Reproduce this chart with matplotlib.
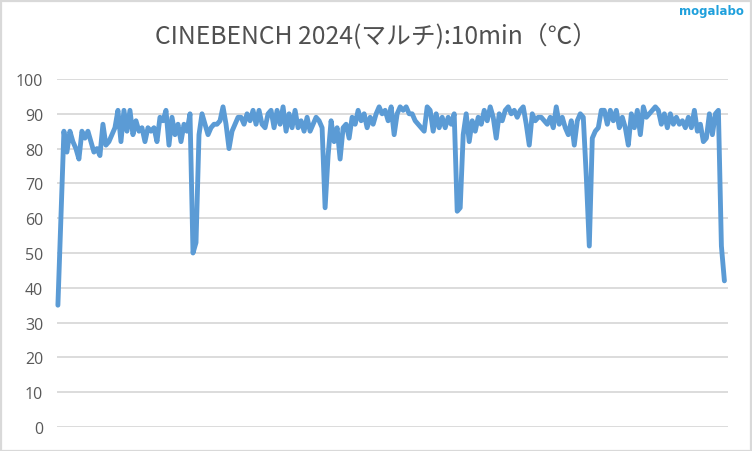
import matplotlib
matplotlib.use("Agg")
import matplotlib.pyplot as plt
from matplotlib.patches import Rectangle
import numpy as np

title = "CINEBENCH 2024(マルチ):10min（℃）"
watermark = "mogalabo"
y_ticks = [0, 10, 20, 30, 40, 50, 60, 70, 80, 90, 100]

temperature = [
    35, 60, 85, 79, 85, 82, 80, 77, 85, 83,
    85, 82, 79, 80, 78, 87, 81, 82, 84, 86,
    91, 82, 91, 85, 91, 84, 88, 85, 86, 82,
    86, 85, 86, 82, 89, 88, 91, 81, 89, 84,
    87, 82, 87, 85, 90, 50, 53, 84, 90, 87,
    84, 86, 87, 87, 88, 92, 87, 80, 85, 87,
    89, 89, 87, 90, 88, 91, 87, 91, 87, 86,
    90, 91, 86, 91, 87, 92, 85, 90, 86, 91,
    86, 88, 85, 89, 85, 87, 89, 88, 86, 63,
    78, 88, 82, 86, 77, 86, 87, 83, 89, 87,
    91, 88, 90, 86, 89, 87, 90, 92, 90, 91,
    88, 92, 84, 90, 92, 91, 92, 90, 90, 88,
    87, 86, 85, 92, 91, 85, 90, 86, 89, 86,
    89, 87, 90, 62, 63, 84, 90, 82, 88, 85,
    89, 87, 91, 88, 92, 89, 83, 90, 88, 91,
    92, 90, 91, 89, 91, 92, 87, 81, 90, 88,
    89, 89, 88, 87, 89, 86, 92, 87, 89, 86,
    84, 88, 81, 88, 90, 89, 72, 52, 83, 85,
    86, 91, 91, 87, 91, 88, 91, 86, 89, 86,
    81, 90, 86, 91, 84, 92, 89, 90, 91, 92,
    91, 87, 90, 86, 90, 87, 89, 87, 88, 86,
    89, 86, 91, 85, 87, 82, 83, 90, 84, 90,
    91, 52, 42,
]

W, H = 752, 452
fig = plt.figure(figsize=(W / 100, H / 100), dpi=100)
fig.patch.set_facecolor("white")

ax = fig.add_axes([57 / W, (H - 428) / H, (728 - 57) / W, (428 - 80) / H])
x = np.arange(len(temperature))
ax.plot(x, temperature, color="#5B9BD5", linewidth=3.5,
        solid_joinstyle="round", solid_capstyle="round", zorder=3, clip_on=False)
ax.set_xlim(-0.3, len(temperature) - 1 + 1.2)
ax.set_ylim(0, 100)
ax.set_yticks(y_ticks)
ax.set_xticks([])
ax.grid(axis="y", color="#D9D9D9", linewidth=1.3, zorder=0)
for s in ax.spines.values():
    s.set_visible(False)
ax.tick_params(axis="y", length=0, pad=10, labelsize=11.5, labelcolor="#595959")
for lab in ax.get_yticklabels():
    lab.set_family(["Open Sans", "DejaVu Sans"])

fig.text(376 / W, 1 - 37 / H, title, ha="center", va="center",
         fontsize=17.8, color="#505050",
         family=["Noto Sans CJK JP", "DejaVu Sans"])
fig.text(744 / W, 1 - 12 / H, watermark, ha="right", va="center",
         fontsize=8.5, fontweight="bold", color="#1FA0DC",
         family=["DejaVu Sans"])

fig.patches.append(Rectangle((0.5 / W, 0.5 / H), (W - 2) / W, (H - 2) / H,
                             transform=fig.transFigure, fill=False,
                             edgecolor="#D9D9D9", linewidth=1.6))

fig.savefig("out.png", dpi=100)
